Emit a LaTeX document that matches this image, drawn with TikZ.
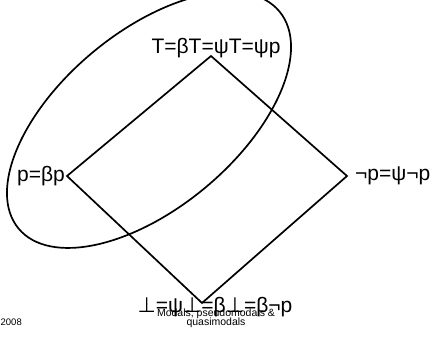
\documentclass[tikz,border=0pt]{standalone}
\usepackage{fontspec}
\setmainfont{Liberation Sans}
\newfontfamily\symfont{DejaVu Sans}
\newcommand{\botsym}{{\symfont ⊥}}

\begin{document}
\begin{tikzpicture}[x=1pt,y=1pt,
    lbl/.style={font=\fontsize{21}{25}\selectfont, inner sep=0pt},
    foot/.style={font=\fontsize{10.5}{12}\selectfont, inner sep=0pt},
    edge/.style={line width=1.7pt, line join=miter}]
  \clip (0,0) rectangle (431,337);
  % corners of the square
  \coordinate (top) at (211,281);
  \coordinate (left) at (67,161);
  \coordinate (right) at (347,161);
  \coordinate (bottom) at (202,34);
  \draw[edge] (top) -- (right) -- (bottom) -- (left) -- cycle;
  \draw[edge, rotate around={39.8:(149,217)}] (149,217) ellipse [x radius=169.7, y radius=88];

  \node[lbl, anchor=base] (toplbl) at (216,283) {T=βT=ψT=ψp};
  \node[lbl, anchor=east] (leftlbl) at (65,161) {p=βp};
  \node[lbl, anchor=west] (rightlbl) at (355,161) {¬p=ψ¬p};
  \node[lbl, anchor=base] (botlbl) at (215,24) {\botsym=ψ\botsym=β\botsym=β¬p};

  \node[foot, anchor=base] (title1) at (216,20) {Modals, pseudomodals \&};
  \node[foot, anchor=base] (title2) at (216,11) {quasimodals};
  \node[foot, font=\fontsize{9.5}{11}\selectfont, anchor=base east] (year) at (22,11) {2008};
\end{tikzpicture}
\end{document}
